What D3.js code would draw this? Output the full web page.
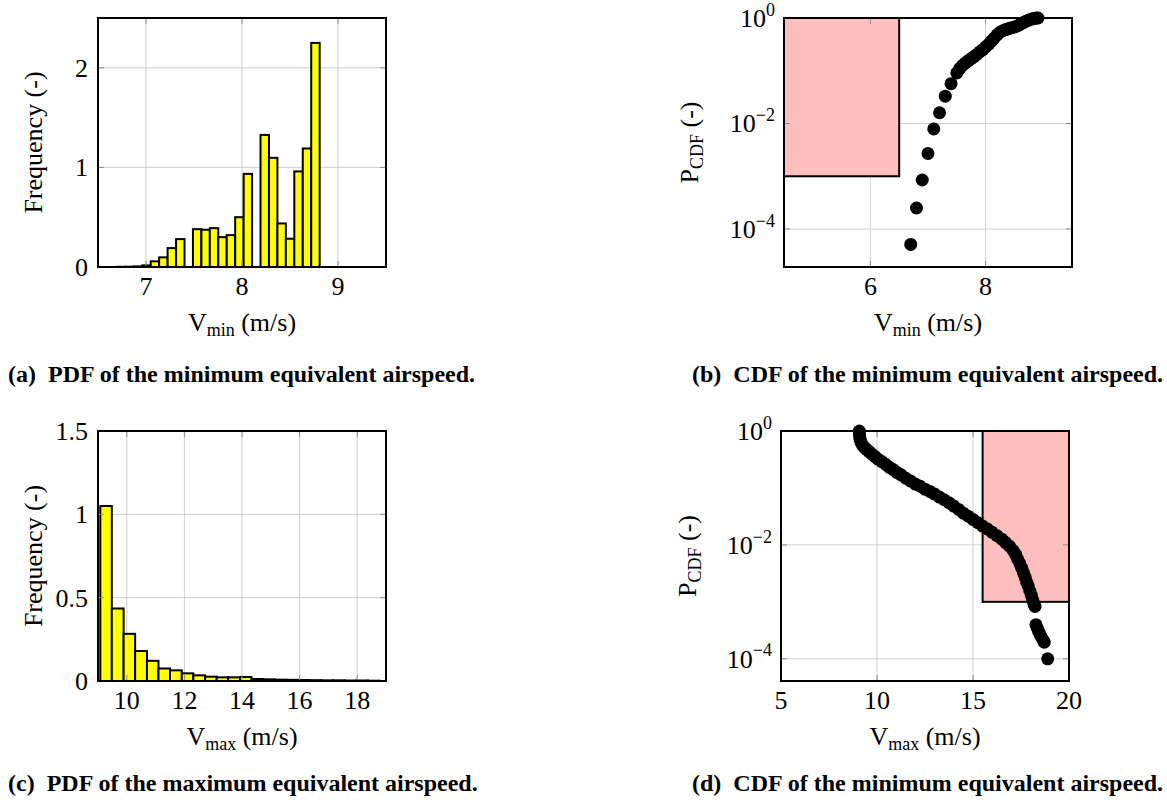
<!DOCTYPE html>
<html>
<head>
<meta charset="utf-8">
<script src="https://cdn.jsdelivr.net/npm/d3@7"></script>
<style>
  body { margin: 0; background: #fff; }
  svg text { font-family: "Liberation Serif", "DejaVu Serif", serif; fill: #000; white-space: pre; }
</style>
</head>
<body>
<svg id="fig" width="1167" height="803"></svg>
<script>
// ---- data ----

// (a) PDF of V_min: bin edges (m/s) and bar heights
const vminEdges = [6.697, 6.785, 6.873, 6.961, 7.049, 7.137, 7.225, 7.313, 7.401, 7.489, 7.577, 7.665,
  7.753, 7.841, 7.929, 8.017, 8.105, 8.193, 8.281, 8.369, 8.457, 8.545, 8.633, 8.721, 8.809];
const vminFreq = [0.002, 0.003, 0.006, 0.016, 0.057, 0.097, 0.19, 0.28, 0, 0.38, 0.374, 0.39,
  0.30, 0.32, 0.50, 0.935, 0, 1.326, 1.096, 0.437, 0.284, 0.96, 1.19, 2.25];

// (b) CDF of V_min
const vminCdfX = [6.70, 6.80, 6.90, 7.00, 7.10, 7.20, 7.30, 7.40, 7.50, 7.55, 7.60, 7.65, 7.70, 7.75,
  7.80, 7.85, 7.90, 7.95, 8.00, 8.05, 8.10, 8.15, 8.20, 8.25, 8.30, 8.35, 8.40, 8.45, 8.50, 8.55,
  8.60, 8.65, 8.70, 8.75, 8.80, 8.84, 8.88, 8.91];
const vminCdfP = [5.1e-5, 2.5e-4, 8.5e-4, 2.7e-3, 7.9e-3, 1.6e-2, 3.3e-2, 5.7e-2, 0.091, 0.110, 0.126,
  0.141, 0.155, 0.170, 0.186, 0.204, 0.229, 0.251, 0.282, 0.316, 0.363, 0.417, 0.479, 0.537, 0.575,
  0.603, 0.631, 0.653, 0.676, 0.708, 0.759, 0.813, 0.871, 0.912, 0.955, 0.980, 0.995, 1.0];

// (c) PDF of V_max
const vmaxEdges = [9.08, 9.48, 9.89, 10.29, 10.70, 11.10, 11.50, 11.91, 12.31, 12.72, 13.12, 13.52,
  13.93, 14.33, 14.74, 15.14, 15.54, 15.95, 16.35, 16.76, 17.16, 17.56, 17.97, 18.37, 18.78];
const vmaxFreq = [1.05, 0.435, 0.283, 0.180, 0.121, 0.075, 0.064, 0.046, 0.034, 0.026, 0.022, 0.022,
  0.024, 0.012, 0.010, 0.008, 0.007, 0.006, 0.005, 0.004, 0.004, 0.003, 0.003, 0.002];

// (d) CDF (exceedance) of V_max
const vmaxCdfX = [9.08, 9.09, 9.10, 9.12, 9.17, 9.25, 9.35, 9.47, 9.60, 9.75, 9.90, 10.05, 10.25,
  10.45, 10.65, 10.85, 11.05, 11.25, 11.5, 11.75, 12.0, 12.25, 12.5, 12.75, 13.0, 13.25, 13.5, 13.75,
  14.0, 14.25, 14.5, 14.75, 15.0, 15.25, 15.5, 15.75, 16.0, 16.25, 16.5, 16.7, 16.9, 17.1, 17.22,
  17.33, 17.44, 17.54, 17.63, 17.72, 17.80, 17.88, 17.96, 18.04, 18.11, 18.18, 18.23,
  18.28, 18.34, 18.42, 18.50, 18.58, 18.65, 18.71, 18.89];
const vmaxCdfP = [1.0, 0.89, 0.79, 0.71, 0.63, 0.56, 0.51, 0.47, 0.43, 0.39, 0.355, 0.32, 0.29, 0.26,
  0.23, 0.21, 0.186, 0.17, 0.148, 0.132, 0.117, 0.107, 0.095, 0.087, 0.078, 0.069, 0.062, 0.055,
  0.048, 0.042, 0.036, 0.032, 0.028, 0.0245, 0.0214, 0.019, 0.0166, 0.0145, 0.0126, 0.011, 0.0095,
  0.0079, 0.0068, 0.0056, 0.0047, 0.0039, 0.0032, 0.0027, 0.0022, 0.0019, 0.00155, 0.0013, 0.00107,
  0.00091, 0.00083, 3.98e-4, 3.47e-4, 3.0e-4, 2.63e-4, 2.34e-4, 2.14e-4, 1.95e-4, 1.0e-4];

// failure regions (x range, P range)
const vminRegion = { x: [4.5, 6.5], p: [1e-3, 1] };
const vmaxRegion = { x: [15.5, 20], p: [1e-3, 1] };

const captions = [
  '(a)  PDF of the minimum equivalent airspeed.',
  '(b)  CDF of the minimum equivalent airspeed.',
  '(c)  PDF of the maximum equivalent airspeed.',
  '(d)  CDF of the minimum equivalent airspeed.'
];

// ---- drawing ----
const svg = d3.select('#fig');
const gridColor = '#cfcfcf';
const tickColor = '#8a8a8a';
const fontSize = 26;

function drawGrid(g, x, y, xGrid, yGrid) {
  const [xl, xr] = x.range(), [yb, yt] = y.range();
  g.append('g').selectAll('line').data(xGrid).join('line')
    .attr('x1', d => x(d)).attr('x2', d => x(d)).attr('y1', yt).attr('y2', yb)
    .attr('stroke', gridColor).attr('stroke-width', 1);
  g.append('g').selectAll('line').data(yGrid).join('line')
    .attr('y1', d => y(d)).attr('y2', d => y(d)).attr('x1', xl).attr('x2', xr)
    .attr('stroke', gridColor).attr('stroke-width', 1);
}

function drawFrame(g, x, y, xGrid, yGrid) {
  const [xl, xr] = x.range(), [yb, yt] = y.range();
  const tl = 6;
  const tk = g.append('g').attr('stroke', tickColor).attr('stroke-width', 1);
  xGrid.forEach(d => {
    tk.append('line').attr('x1', x(d)).attr('x2', x(d)).attr('y1', yb).attr('y2', yb - tl);
    tk.append('line').attr('x1', x(d)).attr('x2', x(d)).attr('y1', yt).attr('y2', yt + tl);
  });
  yGrid.forEach(d => {
    tk.append('line').attr('y1', y(d)).attr('y2', y(d)).attr('x1', xl).attr('x2', xl + tl);
    tk.append('line').attr('y1', y(d)).attr('y2', y(d)).attr('x1', xr).attr('x2', xr - tl);
  });
  g.append('rect').attr('x', xl).attr('y', yt).attr('width', xr - xl).attr('height', yb - yt)
    .attr('fill', 'none').attr('stroke', '#000').attr('stroke-width', 2);
}

function xTickLabels(g, x, y, ticks) {
  const yb = y.range()[0];
  g.append('g').selectAll('text').data(ticks).join('text')
    .attr('x', d => x(d)).attr('y', yb + 28)
    .attr('text-anchor', 'middle').attr('font-size', fontSize)
    .text(d => d3.format('')(d));
}

function yTickLabels(g, x, y, ticks) {
  const xl = x.range()[0];
  g.append('g').selectAll('text').data(ticks).join('text')
    .attr('x', xl - 10).attr('y', d => y(d)).attr('dy', '0.34em')
    .attr('text-anchor', 'end').attr('font-size', fontSize)
    .text(d => d3.format('')(d));
}

function yLogTickLabels(g, x, y, ticks) {
  const xl = x.range()[0];
  const t = g.append('g').selectAll('text').data(ticks).join('text')
    .attr('x', xl - 9).attr('y', d => y(d)).attr('dy', '0.34em')
    .attr('text-anchor', 'end').attr('font-size', fontSize);
  t.append('tspan').text('10');
  t.append('tspan').attr('font-size', 18).attr('dy', '-0.62em')
    .text(d => d3.format('')(Math.round(Math.log10(d))).replace('-', '\u2212'));
}

function xLabel(g, x, y, sub) {
  const [xl, xr] = x.range();
  const t = g.append('text').attr('x', (xl + xr) / 2).attr('y', y.range()[0] + 64)
    .attr('text-anchor', 'middle').attr('font-size', fontSize);
  t.append('tspan').text('V');
  t.append('tspan').attr('font-size', 18).attr('dy', 5).text(sub);
  t.append('tspan').attr('dy', -5).text(' (m/s)');
}

function yLabel(g, cx, y, main, sub) {
  const [yb, yt] = y.range();
  const t = g.append('text').attr('transform', `translate(${cx},${(yb + yt) / 2}) rotate(-90)`)
    .attr('text-anchor', 'middle').attr('font-size', fontSize);
  t.append('tspan').text(main);
  if (sub) {
    t.append('tspan').attr('font-size', 18).attr('dy', 5).text(sub);
    t.append('tspan').attr('dy', -5).text(' (-)');
  } else {
    t.append('tspan').text(' (-)');
  }
}

function bars(g, x, y, edges, freq) {
  const yb = y.range()[0];
  g.append('g').selectAll('rect').data(freq).join('rect')
    .attr('x', (d, i) => x(edges[i]))
    .attr('width', (d, i) => x(edges[i + 1]) - x(edges[i]))
    .attr('y', d => y(d))
    .attr('height', d => yb - y(d))
    .attr('fill', '#ffff00').attr('stroke', '#000').attr('stroke-width', 2);
}

function region(g, x, y, r) {
  g.append('rect')
    .attr('x', x(r.x[0])).attr('y', y(r.p[1]))
    .attr('width', x(r.x[1]) - x(r.x[0])).attr('height', y(r.p[0]) - y(r.p[1]))
    .attr('fill', '#ffbfbf').attr('stroke', '#000').attr('stroke-width', 2);
}

function dots(g, x, y, xs, ps) {
  g.append('g').selectAll('circle').data(xs).join('circle')
    .attr('cx', d => x(d)).attr('cy', (d, i) => y(ps[i])).attr('r', 6.5)
    .attr('fill', '#000');
}

function caption(x0, yb, text) {
  svg.append('text').attr('x', x0).attr('y', yb)
    .attr('font-size', 24).attr('font-weight', 'bold').text(text);
}

// (a)
{
  const g = svg.append('g');
  const x = d3.scaleLinear([6.5, 9.5], [98, 386]);
  const y = d3.scaleLinear([0, 2.5], [267, 18]);
  drawGrid(g, x, y, [7, 8, 9], [1, 2]);
  bars(g, x, y, vminEdges, vminFreq);
  drawFrame(g, x, y, [7, 8, 9], [1, 2]);
  xTickLabels(g, x, y, [7, 8, 9]);
  yTickLabels(g, x, y, [0, 1, 2]);
  xLabel(g, x, y, 'min');
  yLabel(g, 42, y, 'Frequency');
}

// (b)
{
  const g = svg.append('g');
  const x = d3.scaleLinear([4.5, 9.5], [784, 1072]);
  const y = d3.scaleLog([Math.pow(10, -4.72), 1], [267, 18]);
  drawGrid(g, x, y, [6, 8], [1e-2, 1e-4]);
  region(g, x, y, vminRegion);
  dots(g, x, y, vminCdfX, vminCdfP);
  drawFrame(g, x, y, [6, 8], [1e-2, 1e-4]);
  xTickLabels(g, x, y, [6, 8]);
  yLogTickLabels(g, x, y, [1, 1e-2, 1e-4]);
  xLabel(g, x, y, 'min');
  yLabel(g, 698, y, 'P', 'CDF');
}

// (c)
{
  const g = svg.append('g');
  const x = d3.scaleLinear([9, 19], [98, 386]);
  const y = d3.scaleLinear([0, 1.5], [681, 431]);
  drawGrid(g, x, y, [10, 12, 14, 16, 18], [0.5, 1]);
  bars(g, x, y, vmaxEdges, vmaxFreq);
  drawFrame(g, x, y, [10, 12, 14, 16, 18], [0.5, 1]);
  xTickLabels(g, x, y, [10, 12, 14, 16, 18]);
  yTickLabels(g, x, y, [0, 0.5, 1, 1.5]);
  xLabel(g, x, y, 'max');
  yLabel(g, 42, y, 'Frequency');
}

// (d)
{
  const g = svg.append('g');
  const x = d3.scaleLinear([5, 20], [781, 1069]);
  const y = d3.scaleLog([Math.pow(10, -4.39), 1], [681, 431]);
  drawGrid(g, x, y, [10, 15], [1e-2, 1e-4]);
  region(g, x, y, vmaxRegion);
  dots(g, x, y, vmaxCdfX, vmaxCdfP);
  drawFrame(g, x, y, [10, 15], [1e-2, 1e-4]);
  xTickLabels(g, x, y, [5, 10, 15, 20]);
  yLogTickLabels(g, x, y, [1, 1e-2, 1e-4]);
  xLabel(g, x, y, 'max');
  yLabel(g, 696, y, 'P', 'CDF');
}

caption(8, 382, captions[0]);
caption(692, 382, captions[1]);
caption(8, 791, captions[2]);
caption(692, 791, captions[3]);
</script>
</body>
</html>
